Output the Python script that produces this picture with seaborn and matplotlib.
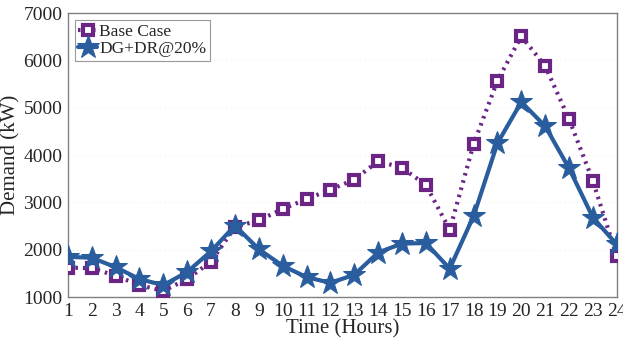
import numpy as np
import pandas as pd
import matplotlib
matplotlib.use("Agg")
import matplotlib.pyplot as plt
import seaborn as sns

hours = list(range(1, 25))
base_case = [1620, 1610, 1450, 1250, 1130, 1380, 1750, 2480, 2620, 2860, 3070, 3270,
             3480, 3870, 3730, 3370, 2420, 4230, 5570, 6510, 5880, 4760, 3450, 1860]
dg_dr = [1850, 1830, 1630, 1380, 1250, 1530, 1970, 2510, 2010, 1660, 1420, 1300,
         1470, 1940, 2130, 2140, 1600, 2710, 4250, 5120, 4610, 3720, 2680, 2110]
y_ticks = [1000, 2000, 3000, 4000, 5000, 6000, 7000]

sns.set_style("white")
plt.rcParams["font.family"] = ["Liberation Serif", "DejaVu Serif"]

df = pd.DataFrame({"hour": hours, "Base Case": base_case, "DG+DR@20%": dg_dr})

fig = plt.figure(figsize=(6.23, 3.43), dpi=100)
ax = fig.add_axes([0.109, 0.134, 0.881, 0.828])

purple = "#6b2585"
blue = "#2a5d9e"

sns.lineplot(data=df, x="hour", y="Base Case", ax=ax, color=purple, lw=3,
             linestyle=(0, (0.6, 1.2)), marker="s", markersize=6.5,
             markerfacecolor=purple, markeredgecolor=purple,
             label="Base Case", zorder=3)
ax.lines[-1].set_markerfacecolor("white")
ax.lines[-1].set_markeredgewidth(3.0)
sns.lineplot(data=df, x="hour", y="DG+DR@20%", ax=ax, color=blue, lw=3,
             marker="*", markersize=17, markeredgecolor=blue,
             label="DG+DR@20%", zorder=4)

ax.set_xlim(1, 24)
ax.set_ylim(1000, 7000)
ax.set_xticks(hours)
ax.set_yticks(y_ticks)
ax.tick_params(labelsize=14, length=0, pad=4)
ax.set_xlabel("Time (Hours)", fontsize=15, labelpad=0)
ax.set_ylabel("Demand (kW)", fontsize=15, labelpad=2)
for y in y_ticks[1:-1]:
    ax.axhline(y, color="#e4e4e4", lw=0.6, ls=(0, (1, 4)), zorder=0)
for s in ax.spines.values():
    s.set_color("#808080")
    s.set_linewidth(1.0)

leg = ax.legend(loc="upper left", fontsize=12.5, frameon=True, fancybox=False,
                borderpad=0.2, handlelength=1.1, handletextpad=0.1,
                labelspacing=0.1, borderaxespad=0.4, edgecolor="#808080")
leg.get_frame().set_linewidth(0.8)

fig.savefig("out.png", dpi=100)
